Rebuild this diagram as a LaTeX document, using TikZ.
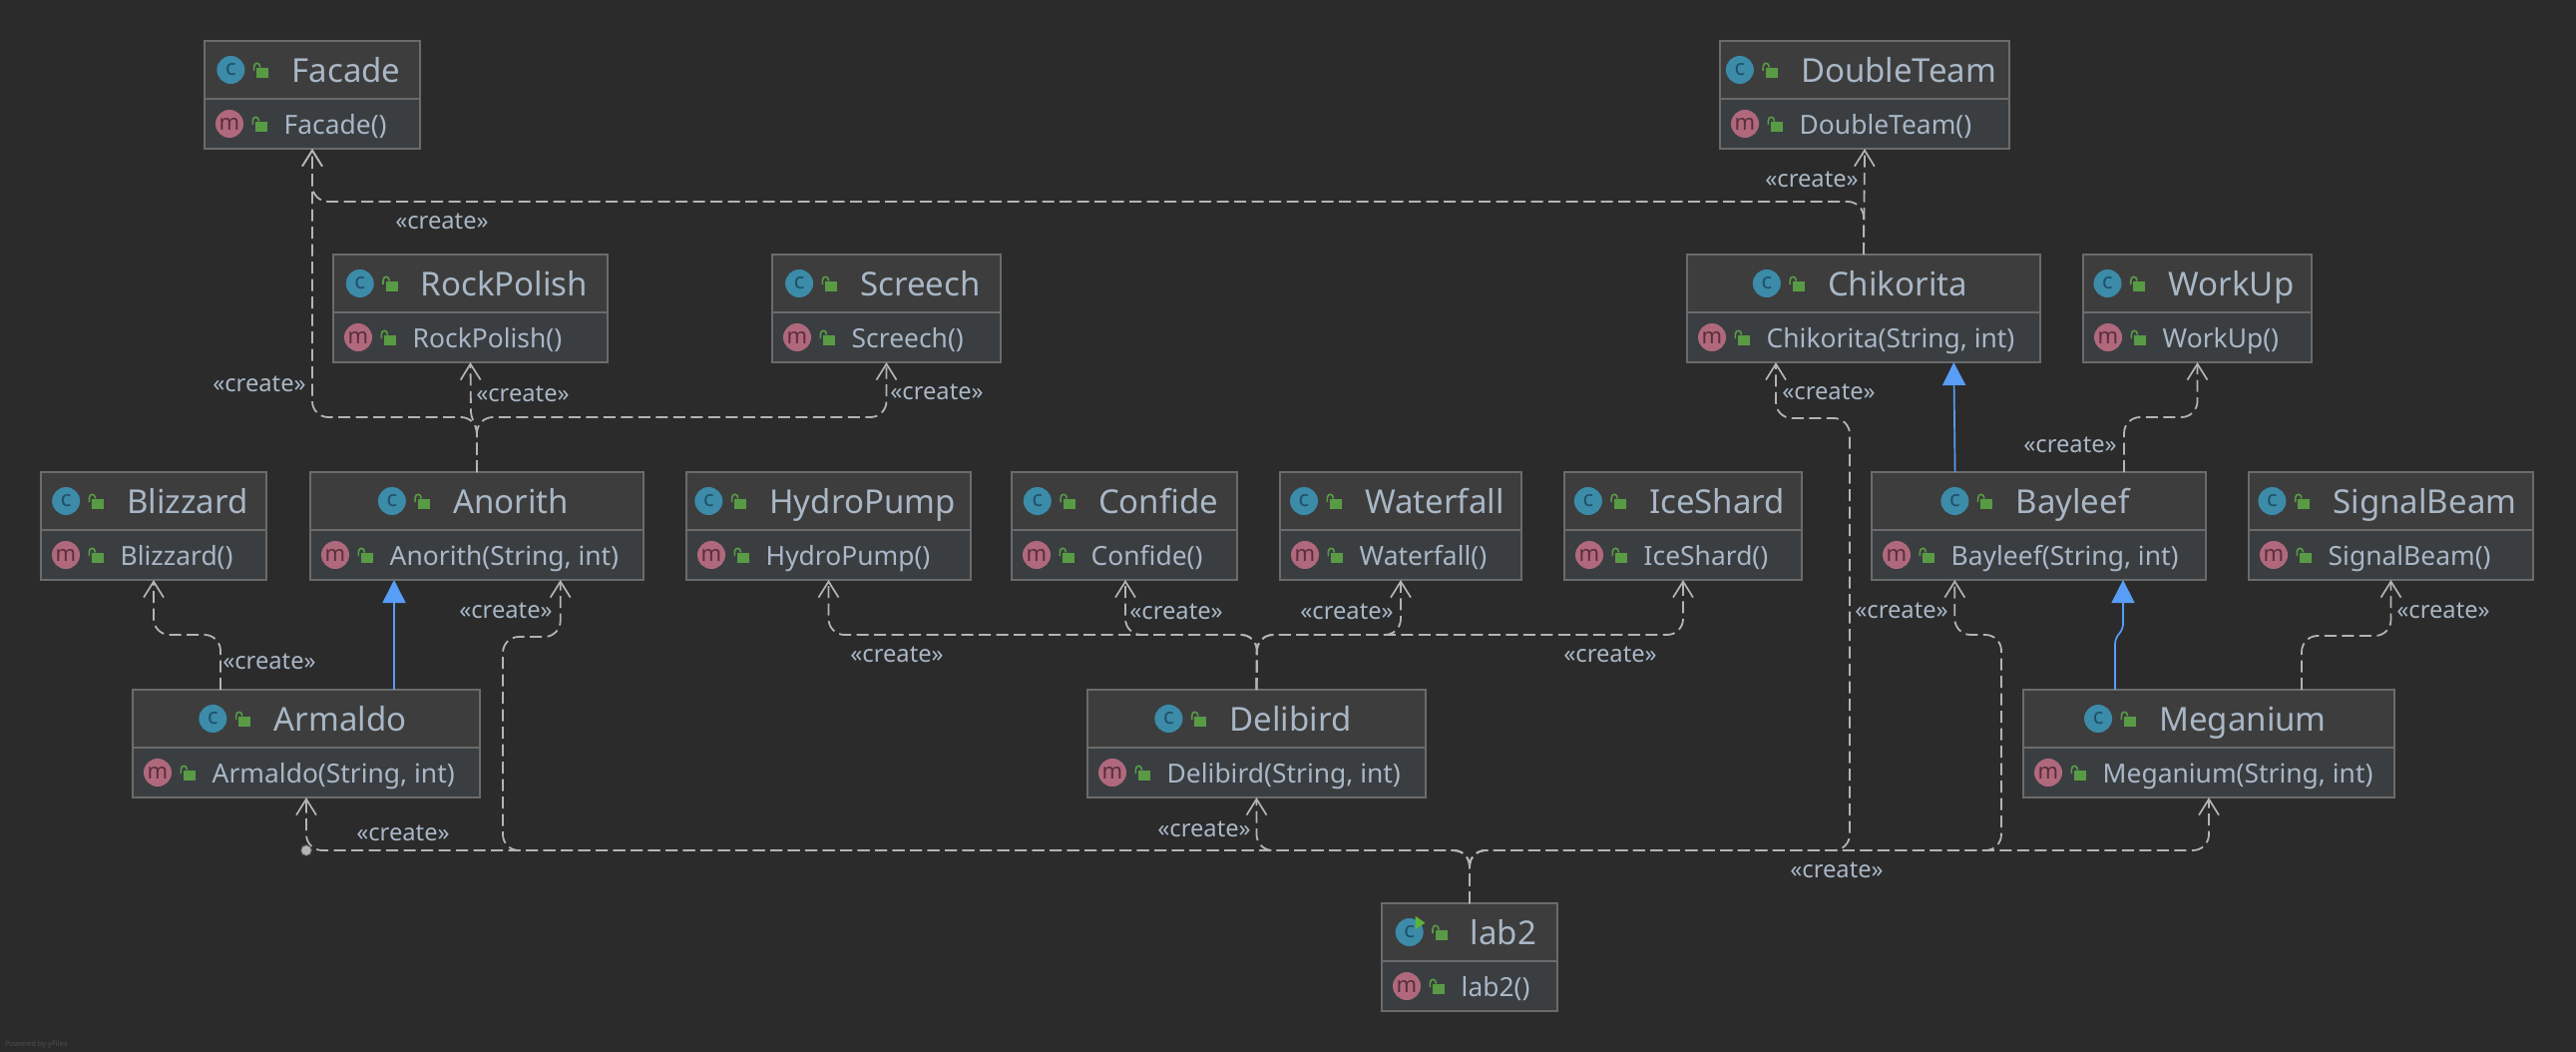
\documentclass[tikz,border=0pt]{standalone}
\usepackage{fontspec}
\setmainfont{Noto Sans}
\usetikzlibrary{arrows.meta}
\definecolor{bgc}{HTML}{2B2B2B}
\definecolor{titlec}{HTML}{3D3D3D}
\definecolor{methc}{HTML}{3A3E41}
\definecolor{borderc}{HTML}{6B6B6B}
\definecolor{textc}{HTML}{A9B7C6}
\definecolor{edgec}{HTML}{B4B4B4}
\definecolor{bluec}{HTML}{589DF6}
\definecolor{lockc}{HTML}{599B45}
\definecolor{cfill}{HTML}{3B8BA9}
\definecolor{cink}{HTML}{1E5168}
\definecolor{mfill}{HTML}{B0697C}
\definecolor{mink}{HTML}{5A2E3A}
\definecolor{runc}{HTML}{5DB33A}
\definecolor{markc}{HTML}{4E4E4E}
\newcommand{\titlefs}{\fontsize{33}{33}\selectfont}
\newcommand{\methfs}{\fontsize{26.4}{27}\selectfont}
\newcommand{\lockicon}[2]{%
  \fill[lockc] (#1+26,#2-1.7) rectangle (#1+38,#2+7.7);
  \draw[lockc,line width=1.6pt] (#1+23.3,#2+1) -- (#1+23.3,#2-3)
     .. controls (#1+23.3,#2-8) and (#1+29.5,#2-8) .. (#1+29.5,#2-2.5);
}
\newcommand{\umlclass}[6]{%
  % name, x0, x1, y0, title, method
  \pgfmathsetmacro\cX{(#2+#3)/2}
  \pgfmathsetmacro\bW{#3-(#2)}
  \pgfmathsetmacro\tX{\cX+34}
  \pgfmathsetmacro\mX{#2+25}
  \pgfmathsetmacro\nX{#2+79.5}
  \pgfmathsetmacro\yB{#4+83}
  \pgfmathsetmacro\yT{#4+41.5}
  \pgfmathsetmacro\yM{#4+93.5}
  \pgfmathsetmacro\yCt{#4+54}
  \pgfmathsetmacro\yTp{#4+29}
  \pgfmathsetmacro\yMp{#4+83.5}
  \node[titlepart,minimum width=\bW pt] (#1-top) at (\cX,\yTp) {};
  \node[methpart,minimum width=\bW pt] (#1-bot) at (\cX,\yMp) {};
  \node[classbox,minimum width=\bW pt] (#1) at (\cX,\yCt) {};
  \draw[borderc,line width=1.7pt] (#1-top.south west) -- (#1-top.south east);
  \node[titletext] (#1-name) at (\tX,\yT) {#5};
  \begin{scope}[shift={(#1-name.base west)}]
    \node[disc,fill=cfill] (#1-ci) at (-61,-12.5) {};
    \node[letter,text=cink] (#1-cl) at (-61,-12.5) {c};
    \lockicon{-61}{-12.5}
  \end{scope}
  \node[disc,fill=mfill] (#1-mi) at (\mX,\yB) {};
  \node[letter,text=mink] (#1-ml) at (\mX,\yB) {m};
  \lockicon{\mX}{\yB}
  \node[methtext] (#1-meth) at (\nX,\yM) {#6};
}
\tikzset{
  classbox/.style={draw=borderc,line width=1.7pt,minimum height=108pt,inner sep=0pt,outer sep=0pt},
  titlepart/.style={fill=titlec,minimum height=58pt,inner sep=0pt,outer sep=0pt},
  methpart/.style={fill=methc,minimum height=49pt,inner sep=0pt,outer sep=0pt},
  disc/.style={circle,minimum size=28pt,inner sep=0pt,outer sep=0pt},
  letter/.style={inner sep=0pt,font=\fontsize{22}{22}\selectfont},
  titletext/.style={anchor=base,inner sep=0pt,text=textc,font=\titlefs},
  methtext/.style={anchor=base west,inner sep=0pt,text=textc,font=\methfs},
  dep/.style={draw=edgec,line width=1.8pt,dash pattern=on 12pt off 5.5pt,rounded corners=16pt,
     -{Straight Barb[length=16pt,width=20pt,line width=1.7pt]}},
  inh/.style={draw=bluec,line width=1.7pt,rounded corners=5pt,
     -{Triangle[length=23pt,width=23pt,fill=bluec]}},
  lbl/.style={text=textc,inner sep=0pt,font=\fontsize{23.7}{24}\selectfont},
}
\newcommand{\crt}[3]{\node[lbl] (#1) at (#2,#3+1) {«create»};}
\begin{document}
\begin{tikzpicture}[x=1pt,y=-1pt]
\useasboundingbox (0,0) rectangle (2582,1054);
\fill[bgc] (0,0) rectangle (2582,1054);

\umlclass{facade}{205}{421}{41}{Facade}{Facade()}
\umlclass{doubleteam}{1724}{2014}{41}{DoubleTeam}{DoubleTeam()}
\umlclass{rockpolish}{334}{609}{255}{RockPolish}{RockPolish()}
\umlclass{screech}{774}{1003}{255}{Screech}{Screech()}
\umlclass{chikorita}{1691}{2045}{255}{Chikorita}{Chikorita(String, int)}
\umlclass{workup}{2088}{2317}{255}{WorkUp}{WorkUp()}
\umlclass{blizzard}{41}{267}{473}{Blizzard}{Blizzard()}
\umlclass{anorith}{311}{645}{473}{Anorith}{Anorith(String, int)}
\umlclass{hydropump}{688}{973}{473}{HydroPump}{HydroPump()}
\umlclass{confide}{1014}{1240}{473}{Confide}{Confide()}
\umlclass{waterfall}{1283}{1525}{473}{Waterfall}{Waterfall()}
\umlclass{iceshard}{1568}{1806}{473}{IceShard}{IceShard()}
\umlclass{bayleef}{1876}{2211}{473}{Bayleef}{Bayleef(String, int)}
\umlclass{signalbeam}{2254}{2539}{473}{SignalBeam}{SignalBeam()}
\umlclass{armaldo}{133}{481}{691}{Armaldo}{Armaldo(String, int)}
\umlclass{delibird}{1090}{1429}{691}{Delibird}{Delibird(String, int)}
\umlclass{meganium}{2028}{2400}{691}{Meganium}{Meganium(String, int)}
\umlclass{lab}{1385}{1561}{905}{lab2}{lab2()}
\begin{scope}[shift={(lab-ci.center)}]
\fill[runc] (6,-16.3) -- (15.7,-9.3) -- (6,-3) -- cycle;
\end{scope}

% dependency connectors
\draw[dep] (anorith.north) -- (478,418) -- (313,418) -- (facade.south);
\draw[dep,rounded corners=4pt] (anorith.north) -- (478,430) -- (472,416) -- (rockpolish.south);
\draw[dep] (anorith.north) -- (478,418) -- (screech.south |- 0,418) -- (screech.south);
\draw[dep] (chikorita.north) -- (1868,202) -- (313,202) -- (facade.south);
\draw[dep] (chikorita.north) -- (doubleteam.south);
\draw[dep] (bayleef.north -| 2129,0) -- (2129,418) -- (2202.5,418) -- (workup.south);
\draw[dep] (meganium.north -| 2307,0) -- (2307,637) -- (2396.5,637) -- (signalbeam.south);
\draw[dep] (armaldo.north -| 221,0) -- (221,636) -- (154,636) -- (blizzard.south);
\draw[dep] (delibird.north) -- (1260,636) -- (830.5,636) -- (hydropump.south);
\draw[dep] (delibird.north) -- (1260,636) -- (1128,636) -- ([xshift=1pt]confide.south);
\draw[dep] (delibird.north) -- (1260,636) -- (1404,636) -- (waterfall.south);
\draw[dep] (delibird.north) -- (1260,636) -- (1687,636) -- (iceshard.south);
\draw[dep] (lab.north) -- (1473,852) -- (307,852) -- (armaldo.south);
\draw[dep] (lab.north) -- (1473,852) -- (504,852) -- (504,638) -- (561.7,638) -- ([xshift=83.7pt]anorith.south);
\draw[dep] (lab.north) -- (1473,852) -- (1259.5,852) -- (delibird.south);
\draw[dep] (lab.north) -- (1473,852) -- (1854,852) -- (1854,419) -- (1780,419) -- ([xshift=-88pt]chikorita.south);
\draw[dep] (lab.north) -- (1473,852) -- (2006,852) -- (2006,636) -- (1959.3,636) -- ([xshift=-84.2pt]bayleef.south);
\draw[dep] (lab.north) -- (1473,852) -- (2214,852) -- (meganium.south);
\node[circle,fill=edgec,draw=markc,line width=1pt,minimum size=11pt,inner sep=0pt] (dot) at (307,852) {};

% inheritance connectors
\draw[inh] (bayleef.north -| 1959.6,0) -- (chikorita.south -| 1958.3,0);
\draw[inh] (armaldo.north -| 395,0) -- (anorith.south -| 395,0);
\draw[inh] (meganium.north -| 2120,0) -- (2120,640) -- (2128,630) -- (bayleef.south -| 2128,0);

% labels
\crt{l1}{443}{221}
\crt{l2}{260}{384}
\crt{l3}{524}{394}
\crt{l4}{939}{392}
\crt{l5}{1816}{179}
\crt{l6}{1833}{392}
\crt{l7}{2075}{445}
\crt{l8}{507}{611}
\crt{l9}{270}{662}
\crt{l10}{899}{655}
\crt{l11}{1179}{612}
\crt{l12}{1350}{612}
\crt{l13}{1614}{655}
\crt{l14}{1906}{611}
\crt{l15}{2449}{611}
\crt{l16}{404}{834}
\crt{l17}{1207}{830}
\crt{l18}{1841}{871}
\node[anchor=base west,inner sep=0pt,text=markc,font=\fontsize{7.5}{8}\selectfont] (yf) at (5,1048) {Powered by yFiles};
\end{tikzpicture}
\end{document}
